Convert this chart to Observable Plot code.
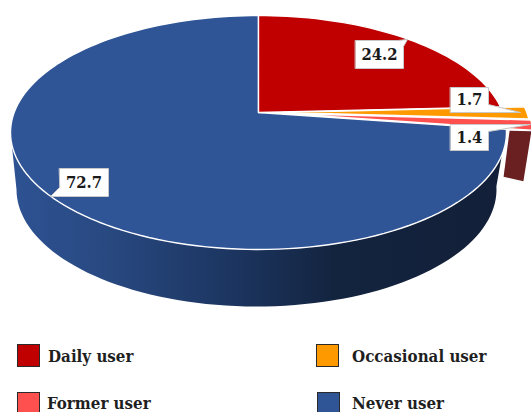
<!DOCTYPE html>
<html>
<head>
<meta charset="utf-8">
<script src="https://cdn.jsdelivr.net/npm/d3@7"></script>
<script src="https://cdn.jsdelivr.net/npm/@observablehq/plot@0.6"></script>
<style>
html,body{margin:0;padding:0;background:#fff;width:531px;height:412px;overflow:hidden}
#chart{position:absolute;left:0;top:0}
#chart svg{display:block;background:transparent}
.lg{position:absolute;font:bold 16.8px "DejaVu Serif Condensed","DejaVu Serif",serif;color:#1f1f1f;line-height:17px;white-space:nowrap}
.sw{position:absolute;width:21px;height:21px;border:1.5px solid #2a2a2a}
</style>
</head>
<body>
<div id="chart"></div>
<script>
// Data
const categories = ["Daily user", "Occasional user", "Former user", "Never user"];
const shares = [24.2, 1.7, 1.4, 72.7];
const shareLabels = ["24.2", "1.7", "1.4", "72.7"];
const colors = ["#c00000", "#ff9900", "#ff5050", "#2f5597"];

// Pie geometry (perspective projection of a tilted disc)
const cx = 258, cy = 132, rx = 248, ry = 117, k = 0.171;
const bottom = {cx: 256, cy: 189, rx: 240, ry: 117};
const explode = [[0, 0], [24, 0], [26, 1], [0, 0]];
const W = 531, H = 330;

function project(deg, r = 1, c = {cx, cy, rx, ry}) {
  const a = deg * Math.PI / 180, X = r * Math.sin(a), Y = r * Math.cos(a);
  const d = 1 + k * Y;
  return {x: c.cx + c.rx * X * Math.sqrt(1 - k * k) / d, y: c.cy - c.ry * (Y + k) / d};
}
function arc(a0, a1, c) {
  const n = Math.max(2, Math.ceil(Math.abs(a1 - a0) / 2));
  return d3.range(n + 1).map(i => project(a0 + (a1 - a0) * i / n, 1, c || {cx, cy, rx, ry}));
}
const cum = d3.cumsum(shares);
const total = d3.sum(shares);
const angle = v => v / total * 360;
const slices = categories.map((name, i) => {
  const a0 = angle(i ? cum[i - 1] : 0), a1 = angle(cum[i]);
  const [dx, dy] = explode[i];
  const pts = [project(0, 0), ...arc(a0, a1)].map(p => ({x: p.x + dx, y: p.y + dy}));
  return {name, a0, a1, pts, color: colors[i]};
});

// Blue outer wall: front half of the rim, between the right and left extremes
const blue = slices[3];
const leftExtreme = 360 - Math.acos(-k) * 180 / Math.PI;
const wall = [...arc(blue.a0, leftExtreme), ...arc(leftExtreme, blue.a0, bottom)];

// Cut face of the exploded Former-user slice
const coral = slices[2];
const rimTop = project(coral.a1, 1), innerTop = project(coral.a1, 0.91);
const face = [
  {x: innerTop.x + explode[2][0], y: innerTop.y + 3},
  {x: rimTop.x + explode[2][0] - 1, y: rimTop.y + 2},
  {x: rimTop.x + explode[2][0] - 9, y: rimTop.y + 52},
  {x: innerTop.x + explode[2][0] - 6, y: innerTop.y + 49}
];

// Callouts
const callouts = [
  {i: 0, x0: 355, x1: 403, y0: 40, y1: 68, tip: [407, 39], side: "ne", notch: 6},
  {i: 1, x0: 450, x1: 488, y0: 87, y1: 112, tip: [520, 112], side: "se", notch: 8},
  {i: 2, x0: 450, x1: 488, y0: 124, y1: 150, tip: [530, 124], side: "ne2", notch: 7},
  {i: 3, x0: 59, x1: 108, y0: 168, y1: 196, tip: [50, 196], side: "sw", notch: 9}
];
const calloutShape = c => {
  const {x0, x1, y0, y1, tip, notch: n} = c;
  const t = {x: tip[0], y: tip[1]};
  const TL = {x: x0, y: y0}, TR = {x: x1, y: y0}, BR = {x: x1, y: y1}, BL = {x: x0, y: y1};
  if (c.side === "ne") return [TL, {x: x1 - n, y: y0}, t, {x: x1, y: y0 + n}, BR, BL];
  if (c.side === "ne2") return [TL, TR, t, {x: x1, y: y0 + n}, BR, BL];
  if (c.side === "se") return [TL, TR, {x: x1, y: y1 - n}, t, BR, BL];
  return [TL, TR, BR, {x: x0 + n, y: y1}, t, {x: x0, y: y1 - n}];
};

const closed = (pts, o) => Plot.line(pts, {x: "x", y: "y", curve: "linear-closed", ...o});
const labelFont = '"DejaVu Serif Condensed","DejaVu Serif",serif';

const plot = Plot.plot({
  width: W, height: H, margin: 0,
  x: {domain: [0, W], range: [0, W], axis: null},
  y: {domain: [0, H], range: [0, H], axis: null},
  marks: [
    closed(wall, {fill: "url(#wallGrad)", stroke: "none"}),
    closed(face, {fill: "#6a1f20", stroke: "none"}),
    ...[3, 0, 1, 2].map(i => closed(slices[i].pts, {fill: slices[i].color, stroke: "#fff", strokeWidth: 1.4})),
    ...callouts.map(c => closed(calloutShape(c), {fill: "#fff", stroke: "#c8c8c8", strokeWidth: 1})),
    Plot.text(callouts, {
      x: c => (c.x0 + c.x1) / 2, y: c => (c.y0 + c.y1) / 2,
      text: c => shareLabels[c.i], fontWeight: "bold", fontSize: 16.5,
      fontFamily: labelFont, fill: "#1a1a1a"
    })
  ]
});
const defs = d3.create("svg:defs");
const g = defs.append("linearGradient").attr("id", "wallGrad").attr("gradientUnits", "userSpaceOnUse")
  .attr("x1", 10).attr("x2", 506).attr("y1", 0).attr("y2", 0);
[[0, "#2e5393"], [0.2, "#284880"], [0.45, "#1c3560"], [0.65, "#13243f"], [1, "#131f38"]].forEach(([o, c]) => g.append("stop").attr("offset", o).attr("stop-color", c));
plot.insertBefore(defs.node(), plot.firstChild);
document.getElementById("chart").append(plot);

// Legend
const legendPos = [[17, 344, 48, 347.5], [316, 344, 352, 347.5], [17, 392, 47, 394.5], [317, 392, 352, 394.5]];
categories.forEach((name, i) => {
  const [sx, sy, tx, ty] = legendPos[i];
  const s = document.createElement("div");
  s.className = "sw"; s.style.left = sx + "px"; s.style.top = sy + "px"; s.style.background = colors[i];
  const t = document.createElement("div");
  t.className = "lg"; t.style.left = tx + "px"; t.style.top = ty + "px"; t.textContent = name;
  document.body.append(s, t);
});
</script>
</body>
</html>
